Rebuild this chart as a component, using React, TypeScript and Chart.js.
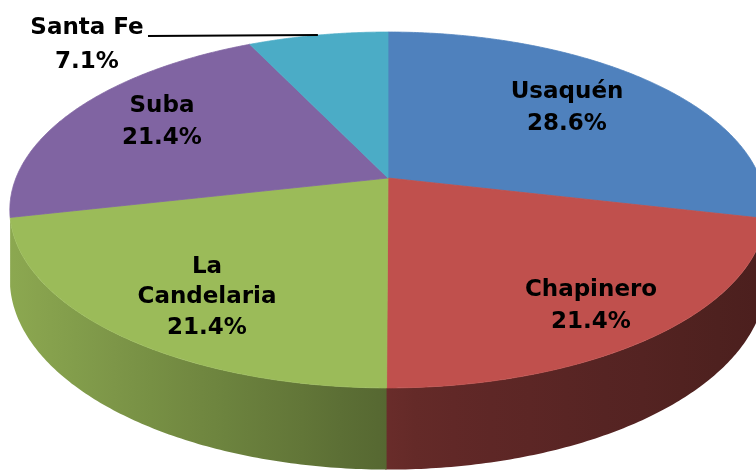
import React, { useEffect, useRef } from "react";
import { Chart, registerables } from "chart.js";

Chart.register(...registerables);

// ---- data ----
const categories = ["Usaquén", "Chapinero", "La Candelaria", "Suba", "Santa Fe"];
const labelLines = [["Usaquén"], ["Chapinero"], ["La", "Candelaria"], ["Suba"], ["Santa Fe"]];
const values = [28.6, 21.4, 21.4, 21.4, 7.1];
const colors = ["#4F81BD", "#C0504D", "#9BBB59", "#8064A2", "#4BACC6"];

// ---- styling / geometry (not data) ----
const W = 756;
const Hc = 472;
const CX = 388; // projected centre of the disc
const CY = 178;
const RX = 372;
const RY = 172.2;
const K = 0.1797; // perspective factor
const DEPTH = 67;
const FONT = "bold 23px 'DejaVu Sans', sans-serif";
const LINE_GAP = 32;
// label anchor (centre x, centre y of first line)
const labelAnchors = [
  [567, 92],
  [591, 290],
  [207, 267],
  [162, 106],
  [87, 28],
];

function proj(a: number) {
  const u = Math.cos(a);
  const v = Math.sin(a);
  const w = 1 - K * v;
  return { x: CX + (RX * u) / w, y: CY + (RY * v) / w, w };
}

function hexToRgb(h: string) {
  const n = parseInt(h.slice(1), 16);
  return [(n >> 16) & 255, (n >> 8) & 255, n & 255];
}

// shading factor of the side wall vs x
function shade(x: number) {
  if (x <= 388) return 0.9 - ((x - 10) / 378) * 0.35;
  return 0.53 - ((x - 388) / 378) * 0.14;
}

const pie3d = {
  id: "pie3d",
  beforeDatasetsDraw(chart: any) {
    const ctx: CanvasRenderingContext2D = chart.ctx;
    const meta = chart.getDatasetMeta(0);
    const aL = Math.asin(K);
    const aR = Math.PI - aL;
    ctx.save();
    // walls
    meta.data.forEach((arc: any, i: number) => {
      const s = Math.max(arc.startAngle, aL);
      const e = Math.min(arc.endAngle + 0.003, aR);
      if (e - s < 0.06 && s > Math.PI / 2) return;
      if (e <= s) return;
      const N = 120;
      const top: any[] = [];
      for (let j = 0; j <= N; j++) top.push(proj(s + ((e - s) * j) / N));
      ctx.beginPath();
      top.forEach((p, j) => (j === 0 ? ctx.moveTo(p.x, p.y) : ctx.lineTo(p.x, p.y)));
      for (let j = N; j >= 0; j--) {
        const p = top[j];
        ctx.lineTo(p.x, p.y + DEPTH / p.w);
      }
      ctx.closePath();
      const rgb = hexToRgb(colors[i]);
      const g = ctx.createLinearGradient(0, 0, W, 0);
      for (let t = 0; t <= 20; t++) {
        const x = (W * t) / 20;
        const f = shade(x);
        g.addColorStop(t / 20, `rgb(${Math.round(rgb[0] * f)},${Math.round(rgb[1] * f)},${Math.round(rgb[2] * f)})`);
      }
      ctx.fillStyle = g;
      ctx.fill();
    });
    // top faces
    meta.data.forEach((arc: any, i: number) => {
      const s = arc.startAngle;
      const e = arc.endAngle;
      const N = 200;
      ctx.beginPath();
      ctx.moveTo(CX, CY);
      for (let j = 0; j <= N; j++) {
        const p = proj(s + ((e - s) * j) / N);
        ctx.lineTo(p.x, p.y);
      }
      ctx.closePath();
      ctx.fillStyle = colors[i];
      ctx.strokeStyle = colors[i];
      ctx.lineWidth = 0.8;
      ctx.fill();
      ctx.stroke();
    });
    // leader line for the smallest slice
    const last = meta.data[meta.data.length - 1];
    const pm = proj((last.startAngle + last.endAngle) / 2);
    ctx.beginPath();
    ctx.moveTo(pm.x, pm.y);
    ctx.lineTo(148, pm.y + 1);
    ctx.strokeStyle = "#000";
    ctx.lineWidth = 2;
    ctx.stroke();
    // labels
    const total = values.reduce((a, b) => a + b, 0);
    ctx.font = FONT;
    ctx.fillStyle = "#000";
    ctx.textAlign = "center";
    ctx.textBaseline = "middle";
    categories.forEach((c, i) => {
      const [lx, ly] = labelAnchors[i];
      const lines = [...labelLines[i], ((values[i] / total) * 100).toFixed(1) + "%"];
      lines.forEach((t, j) => ctx.fillText(t, lx, ly + j * (i === 2 ? 30.5 : LINE_GAP) + (j === lines.length - 1 && i === 4 ? 2 : 0)));
    });
    ctx.restore();
    return false;
  },
};

export default function App() {
  const ref = useRef<HTMLCanvasElement>(null);
  useEffect(() => {
    const prevMargin = document.body.style.margin;
    document.body.style.margin = "0";
    const chart = new Chart(ref.current as HTMLCanvasElement, {
      type: "pie",
      data: {
        labels: categories,
        datasets: [{ data: values, backgroundColor: colors, borderWidth: 0 }],
      },
      options: {
        responsive: false,
        animation: false,
        events: [],
        plugins: { legend: { display: false }, tooltip: { enabled: false } },
      },
      plugins: [pie3d as any],
    });
    return () => {
      chart.destroy();
      document.body.style.margin = prevMargin;
    };
  }, []);
  return (
    <div style={{ position: "absolute", left: 0, top: 0, width: W, height: Hc, background: "#fff" }}>
      <canvas ref={ref} width={W} height={Hc} style={{ width: W, height: Hc, display: "block" }} />
    </div>
  );
}
